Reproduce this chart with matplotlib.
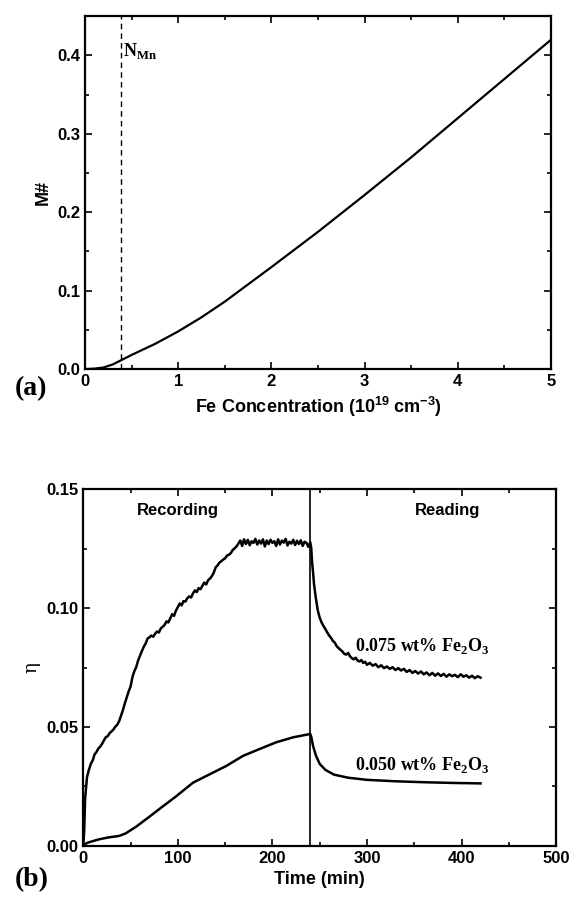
import matplotlib
matplotlib.use("Agg")
import matplotlib.pyplot as plt
from matplotlib.ticker import MultipleLocator, FormatStrFormatter

plt.rcParams['font.family'] = ['Liberation Sans', 'DejaVu Sans']
plt.rcParams['font.weight'] = 'bold'
plt.rcParams['mathtext.fontset'] = 'custom'
plt.rcParams['mathtext.bf'] = 'Liberation Serif:bold'
plt.rcParams['mathtext.sf'] = 'Liberation Sans:bold'
plt.rcParams['mathtext.rm'] = 'Liberation Sans:bold'

# (a) M# vs Fe concentration
fe_conc = [0.0, 0.1, 0.2, 0.3, 0.4, 0.5, 0.75, 1.0, 1.25, 1.5, 2.0, 2.5, 3.0, 3.5, 4.0, 4.5, 5.0]
m_number = [0.0, 0.0005, 0.002, 0.006, 0.012, 0.018, 0.032, 0.048, 0.066, 0.086,
            0.130, 0.175, 0.222, 0.270, 0.320, 0.370, 0.420]
n_mn = 0.39

# (b) diffraction efficiency vs time
t_075 = [0, 1, 2, 4, 6, 8, 10, 12, 14, 16, 18, 20, 22, 24, 26, 28, 30, 32, 34, 36, 38,
         40, 42, 44, 46, 48, 50, 52, 54, 56, 58, 60, 62, 64, 66, 68, 70, 72, 74, 76, 78,
         80, 82, 84, 86, 88, 90, 92, 94, 96, 98, 100, 102, 104, 106, 108, 110, 112, 114,
         116, 118, 120, 122, 124, 126, 128, 130, 132, 134, 136, 138, 140, 142, 144, 146,
         148, 150, 152, 154, 156, 158, 160, 162, 164, 166, 168, 170, 172, 174, 176, 178,
         180, 182, 184, 186, 188, 190, 192, 194, 196, 198, 200, 202, 204, 206, 208, 210,
         212, 214, 216, 218, 220, 222, 224, 226, 228, 230, 232, 234, 236, 238, 240,
         241, 242, 243, 244, 246, 248, 250, 252, 254, 256, 258, 260, 262, 264, 266, 268,
         270, 272, 274, 276, 278, 280, 282, 284, 286, 288, 290, 292, 294, 296, 298, 300,
         303, 306, 309, 312, 315, 318, 321, 324, 327, 330, 333, 336, 339, 342, 345, 348,
         351, 354, 357, 360, 363, 366, 369, 372, 375, 378, 381, 384, 387, 390, 393, 396,
         399, 402, 405, 408, 411, 414, 417, 420]
eta_075 = [0.000, 0.006, 0.020, 0.029, 0.032, 0.0345, 0.036, 0.0385, 0.0395, 0.041,
           0.0418, 0.043, 0.0445, 0.0458, 0.0462, 0.0475, 0.0482, 0.0490, 0.0502, 0.0510,
           0.0525, 0.0548, 0.0572, 0.0600, 0.0625, 0.0650, 0.0670, 0.0710, 0.0735, 0.0752,
           0.0780, 0.0800, 0.0820, 0.0838, 0.0852, 0.0872, 0.0878, 0.0885, 0.0880, 0.0893,
           0.0902, 0.0898, 0.0915, 0.0922, 0.0930, 0.0945, 0.0940, 0.0958, 0.0975, 0.0968,
           0.0990, 0.1005, 0.1020, 0.1012, 0.1030, 0.1028, 0.1042, 0.1050, 0.1045, 0.1062,
           0.1075, 0.1068, 0.1085, 0.1080, 0.1095, 0.1108, 0.1100, 0.1118, 0.1125, 0.1135,
           0.1150, 0.1172, 0.1180, 0.1192, 0.1198, 0.1205, 0.1210, 0.1222, 0.1225, 0.1232,
           0.1245, 0.1252, 0.1260, 0.1272, 0.1285, 0.1262, 0.1290, 0.1270, 0.1288, 0.1265,
           0.1282, 0.1275, 0.1292, 0.1268, 0.1285, 0.1272, 0.1290, 0.1260, 0.1285, 0.1270,
           0.1288, 0.1275, 0.1282, 0.1262, 0.1290, 0.1268, 0.1285, 0.1276, 0.1292, 0.1264,
           0.1280, 0.1272, 0.1288, 0.1266, 0.1284, 0.1270, 0.1286, 0.1262, 0.1280, 0.1275,
           0.1258, 0.1278,
           0.1255, 0.1190, 0.1150, 0.1100, 0.1040, 0.0990, 0.0960, 0.0940, 0.0925, 0.0912,
           0.0898, 0.0885, 0.0875, 0.0862, 0.0855, 0.0840, 0.0832, 0.0825, 0.0818, 0.0808,
           0.0805, 0.0812, 0.0798, 0.0790, 0.0785, 0.0792, 0.0780, 0.0776, 0.0782, 0.0770,
           0.0775, 0.0762,
           0.0770, 0.0758, 0.0765, 0.0752, 0.0760, 0.0748, 0.0755, 0.0745, 0.0752, 0.0740,
           0.0748, 0.0738, 0.0745, 0.0732, 0.0740, 0.0728, 0.0736, 0.0725, 0.0734, 0.0722,
           0.0730, 0.0718, 0.0728, 0.0716, 0.0726, 0.0715, 0.0724, 0.0712, 0.0722, 0.0714,
           0.0720, 0.0710, 0.0722, 0.0712, 0.0718, 0.0708, 0.0716, 0.0706, 0.0714, 0.0708]

t_050 = [0, 2, 5, 10, 17, 27, 38, 45, 56, 70, 84, 98, 116, 133, 151, 169, 186, 204, 222,
         240, 241, 243, 246, 250, 256, 265, 280, 300, 330, 360, 390, 420]
eta_050 = [0.0, 0.0008, 0.0014, 0.0020, 0.0028, 0.0036, 0.0042, 0.0053, 0.0081, 0.0123,
           0.0166, 0.0208, 0.0266, 0.0300, 0.0336, 0.0379, 0.0407, 0.0436, 0.0457, 0.0471,
           0.0460, 0.0420, 0.0380, 0.0345, 0.0320, 0.0300, 0.0287, 0.0278, 0.0272, 0.0268,
           0.0265, 0.0263]
t_switch = 240

fig = plt.figure(figsize=(5.74, 8.98), dpi=100)
ax1 = fig.add_axes([0.148, 0.589, 0.812, 0.393])
ax2 = fig.add_axes([0.145, 0.058, 0.824, 0.397])

for ax in (ax1, ax2):
    for sp in ax.spines.values():
        sp.set_linewidth(1.6)
    ax.tick_params(which='both', direction='in', top=True, right=True, labelsize=12,
                   width=1.2)
    ax.tick_params(which='major', length=5)
    ax.tick_params(which='minor', length=3)

# panel (a)
ax1.plot(fe_conc, m_number, color='black', lw=1.6)
ax1.axvline(n_mn, color='black', lw=1.0, ls=(0, (4, 3)))
ax1.text(n_mn + 0.02, 0.405, r'$\mathbf{N}_{\mathbf{Mn}}$', fontsize=13, va='center')
ax1.set_xlim(0, 5)
ax1.set_ylim(0, 0.45)
ax1.xaxis.set_major_locator(MultipleLocator(1))
ax1.xaxis.set_minor_locator(MultipleLocator(0.5))
ax1.yaxis.set_major_locator(MultipleLocator(0.1))
ax1.yaxis.set_minor_locator(MultipleLocator(0.05))
ax1.yaxis.set_major_formatter(FormatStrFormatter('%.1f'))
ax1.set_xlabel(r'Fe Concentration (10$^{\mathsf{19}}$ cm$^{\mathsf{-3}}$)', fontsize=13,
               fontweight='bold')
ax1.set_ylabel('M#', fontsize=13, fontweight='bold')
fig.text(0.025, 0.567, '(a)', fontsize=20, fontweight='bold', family='Liberation Serif',
         va='center')

# panel (b)
ax2.plot(t_075, eta_075, color='black', lw=1.8)
ax2.plot(t_050, eta_050, color='black', lw=1.8)
ax2.axvline(t_switch, color='black', lw=1.2)
ax2.text(100, 0.141, 'Recording', fontsize=12, fontweight='bold', ha='center', va='center')
ax2.text(385, 0.141, 'Reading', fontsize=12, fontweight='bold', ha='center', va='center')
ax2.text(287, 0.084, r'0.075 wt% Fe$_\mathbf{2}$O$_\mathbf{3}$', fontsize=13,
         fontweight='bold', family='Liberation Serif', va='center')
ax2.text(287, 0.034, r'0.050 wt% Fe$_\mathbf{2}$O$_\mathbf{3}$', fontsize=13,
         fontweight='bold', family='Liberation Serif', va='center')
ax2.set_xlim(0, 500)
ax2.set_ylim(0, 0.15)
ax2.xaxis.set_major_locator(MultipleLocator(100))
ax2.xaxis.set_minor_locator(MultipleLocator(50))
ax2.yaxis.set_major_locator(MultipleLocator(0.05))
ax2.yaxis.set_minor_locator(MultipleLocator(0.025))
ax2.yaxis.set_major_formatter(FormatStrFormatter('%.2f'))
ax2.set_xlabel('Time (min)', fontsize=13, fontweight='bold')
ax2.set_ylabel('η', fontsize=13, fontweight='normal', family='DejaVu Serif')
fig.text(0.025, 0.02, '(b)', fontsize=20, fontweight='bold', family='Liberation Serif',
         va='center')

fig.savefig('out.png', dpi=100, facecolor='white')
